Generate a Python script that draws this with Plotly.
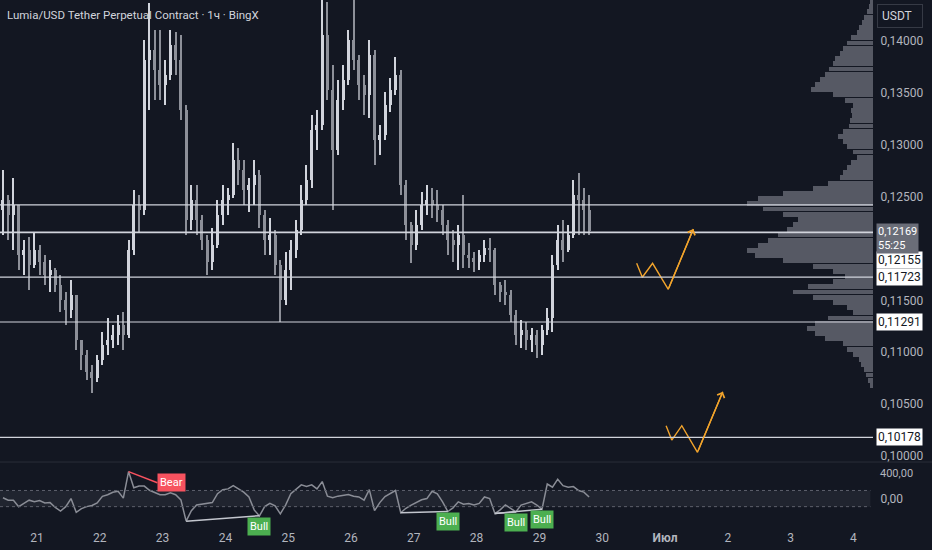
import numpy as np
import pandas as pd
import plotly.graph_objects as go

BG = "#131722"
TXT = "#b2b5be"
FONT = "Roboto"

# 2h candles, Lumia/USDT, 20 Jun 10:00 -> 29 Jun 20:00
first_open = 0.12371
closes = [
    .12467, .12322, .12419, .11937, .11985, .11841, .11985, .11869, .11744, .11792,
    .11647, .11503, .11407, .11551, .11117, .10973, .10809, .10751, .10925, .11069,
    .11117, .11166, .11262, .11166, .11985, .12419, .12371, .13817, .13913, .13720,
    .13576, .13672, .13961, .13817, .13335, .12274, .12467, .12274, .12081, .11869,
    .12033, .12322, .12467, .12515, .12853, .12756, .12563, .12611, .12708, .12322,
    .12081, .12130, .11841, .11503, .11792, .11985, .12178, .12467, .12660, .13142,
    .13190, .14058, .13527, .12949, .13431, .13624, .14009, .13817, .13576, .13479,
    .13865, .13045, .13094, .13383, .13527, .13672, .12611, .12226, .12033, .12226,
    .12419, .12467, .12419, .12371, .12226, .12081, .12033, .12130, .11937, .11908,
    .11869, .11937, .12004, .11985, .11647, .11580, .11551, .11359, .11166, .11213,
    .11117, .11166, .11069, .11213, .11330, .11841, .12081, .11985, .12130, .12515,
    .12467, .12371, .12169]
highs = [
    .12756, .12515, .12679, .12419, .12081, .12110, .12159, .12033, .11937, .11889,
    .11812, .11744, .11580, .11696, .11551, .11117, .11021, .10876, .10973, .11194,
    .11330, .11262, .11359, .11387, .12081, .12563, .12515, .14009, .14366, .14106,
    .14106, .13817, .14106, .14087, .14058, .13383, .12611, .12611, .12322, .12130,
    .12197, .12467, .12611, .12583, .13016, .12968, .12853, .12679, .12853, .12756,
    .12371, .12293, .12178, .11889, .11966, .12081, .12274, .12611, .12804, .13286,
    .13335, .14395, .14376, .13768, .13624, .13768, .14106, .14395, .13865, .13672,
    .14009, .13913, .13190, .13508, .13643, .13846, .13720, .12660, .12255, .12371,
    .12544, .12611, .12583, .12563, .12419, .12274, .12178, .12226, .12515, .12052,
    .11966, .11985, .12081, .12101, .12004, .11676, .11696, .11599, .11407, .11310,
    .11291, .11233, .11214, .11262, .11426, .11937, .12226, .12274, .12226, .12660,
    .12727, .12583, .12515]
lows = [
    .12130, .12081, .11985, .11792, .11744, .11599, .11812, .11744, .11647, .11580,
    .11580, .11387, .11262, .11330, .11021, .10828, .10732, .10607, .10713, .10876,
    .10973, .11040, .11069, .11021, .11137, .11937, .12159, .12322, .13335, .13431,
    .13431, .13383, .13624, .13672, .13238, .12130, .12178, .12130, .11985, .11744,
    .11792, .12004, .12226, .12322, .12486, .12611, .12419, .12351, .12419, .12197,
    .11937, .11937, .11744, .11291, .11455, .11599, .11908, .12130, .12419, .12583,
    .12949, .13142, .13431, .12371, .12901, .13335, .13576, .13720, .13431, .13286,
    .13258, .12804, .12901, .13045, .13315, .13479, .12515, .12081, .11860, .11985,
    .12178, .12322, .12293, .12255, .12130, .11937, .11869, .11792, .11812, .11812,
    .11773, .11792, .11869, .11869, .11551, .11484, .11455, .11291, .11069, .11040,
    .11021, .11002, .10944, .10973, .11166, .11194, .11792, .11869, .11966, .12101,
    .12130, .12130, .12130]

# CCI-like oscillator in the lower pane
cci = [
    10, -20, -20, -100, -60, -20, -40, -25, -55, -50,
    -110, -155, -100, 0, -170, -125, -100, -85, -55, 27,
    47, 78, 90, 5, 334, 133, 155, 155, 103, 78,
    47, 47, 70, 47, -16, -280, -150, -80, -70, -65,
    -50, 60, 110, 120, 160, 120, 80, 20, -140, -215,
    -100, -60, -90, -190, -80, 60, 110, 170, 150, 170,
    120, 210, 30, 10, 30, 40, 50, 30, 20, -20,
    110, -150, -50, 25, 60, 100, -175, -120, -80, -45,
    -15, 0, 90, 60, -40, -160, -115, -40, -70, -60,
    -80, -60, 20, 0, -185, -140, -80, -120, -165, -80,
    -60, -40, -80, -132, 180, 140, 240, 160, 140, 148,
    100, 80, 20]

# volume profile (fixed range), price bins and relative volume
vp_levels = [
    .1438, .1433, .1428, .1423, .1418, .1413, .1408, .1403, .1398, .1393,
    .1388, .1383, .1378, .1373, .1368, .1363, .1358, .1353, .1348, .1343,
    .1338, .1333, .1328, .1323, .1318, .1313, .1308, .1303, .1298, .1293,
    .1288, .1283, .1278, .1273, .1268, .1263, .1258, .1253, .1248, .1243,
    .1238, .1233, .1228, .1223, .1218, .1213, .1208, .1203, .1198, .1193,
    .1188, .1183, .1178, .1173, .1168, .1163, .1158, .1153, .1148, .1143,
    .1138, .1133, .1128, .1123, .1118, .1113, .1108, .1103, .1098, .1093,
    .1088, .1083, .1078, .1073, .1068]
vp_volume = [
    3, 4, 6, 9, 11, 14, 16, 22, 26, 30,
    33, 38, 40, 44, 48, 53, 58, 62, 40, 28,
    20, 22, 21, 23, 24, 30, 35, 30, 26, 20,
    16, 22, 26, 30, 33, 45, 60, 90, 115, 126,
    110, 90, 75, 80, 86, 95, 105, 115, 126, 118,
    90, 60, 40, 28, 40, 65, 80, 60, 40, 26,
    20, 45, 58, 66, 58, 48, 30, 26, 20, 14,
    12, 9, 7, 5, 3]

levels = [0.12420, 0.12155, 0.11723, 0.11291, 0.10178]
level_labels = ["0,12155", "0,11723", "0,11291", "0,10178"]
last_price = 0.12169
countdown = "55:25"

# 0,12000 sits under the price boxes in the reference, so it is not listed
price_ticks = [0.100, 0.105, 0.110, 0.115, 0.125, 0.130, 0.135, 0.140]
osc_top_label = 400
day_ticks = pd.date_range("2025-06-21", "2025-07-04", freq="D")
day_text = ["21", "22", "23", "24", "25", "26", "27", "28", "29", "30",
            "<b>Июл</b>", "2", "3", "4"]

# orange "W" projections
w1_time = ["2025-06-30 13:10", "2025-06-30 15:20", "2025-06-30 19:15",
           "2025-07-01 01:15", "2025-07-01 10:50"]
w1_price = [0.11857, 0.11722, 0.11857, 0.11606, 0.12187]
w2_time = ["2025-07-01 00:25", "2025-07-01 02:35", "2025-07-01 06:25",
           "2025-07-01 12:25", "2025-07-01 22:05"]
w2_price = [0.10291, 0.10153, 0.10291, 0.10035, 0.10619]

bar_time = pd.date_range("2025-06-20 11:00", periods=len(closes), freq="2h")
opens = [first_open] + closes[:-1]

# divergence lines on the oscillator
bear_line = ([bar_time[24], pd.Timestamp("2025-06-22 22:00")], [334, 195])
bull_lines = [
    ([bar_time[35], bar_time[49]], [-280, -212]),
    ([bar_time[76], bar_time[85]], [-175, -160]),
    ([bar_time[94], bar_time[98]], [-185, -165]),
    ([bar_time[94], bar_time[103]], [-185, -132]),
]

PX_MS = 86400000 / 62.8  # ms per pixel on the time axis
up = [c >= o for o, c in zip(opens, closes)]
col = ["#d1d4dc" if u else "#8d9099" for u in up]
body_lo = [min(o, c) for o, c in zip(opens, closes)]
body_h = [max(abs(c - o), 0.00005) for o, c in zip(opens, closes)]
wick_h = [h - l for h, l in zip(highs, lows)]

fig = go.Figure()

fig.add_trace(go.Bar(
    y=vp_levels, x=vp_volume, orientation="h", width=0.00047,
    marker=dict(color="rgba(128,131,141,0.62)", line=dict(width=0)),
    xaxis="x3", yaxis="y", hoverinfo="skip"))

fig.add_trace(go.Bar(
    x=bar_time, y=wick_h, base=lows, width=PX_MS * 1.1,
    marker=dict(color=col, line=dict(width=0)),
    xaxis="x2", yaxis="y", hoverinfo="skip"))
fig.add_trace(go.Bar(
    x=bar_time, y=body_h, base=body_lo, width=PX_MS * 3.0,
    marker=dict(color=col, line=dict(width=0)),
    xaxis="x2", yaxis="y"))

for t, p in [(w1_time, w1_price), (w2_time, w2_price)]:
    fig.add_trace(go.Scatter(x=t, y=p, mode="lines", xaxis="x2", yaxis="y",
                             line=dict(color="#f2a42c", width=1.4)))
    fig.add_annotation(x=t[-1], y=p[-1], ax=t[-2], ay=p[-2], xref="x2", yref="y",
                       axref="x2", ayref="y", text="", showarrow=True,
                       arrowhead=4, arrowsize=1.1, arrowwidth=1.4, arrowcolor="#f2a42c")

fig.add_trace(go.Scatter(x=bar_time, y=cci, mode="lines", xaxis="x", yaxis="y2",
                         line=dict(color="#8a8d96", width=1.5)))

fig.add_trace(go.Scatter(x=bear_line[0], y=bear_line[1], mode="lines", xaxis="x", yaxis="y2",
                         line=dict(color="#f7525f", width=1.5)))
fig.add_annotation(x=bear_line[0][1], y=bear_line[1][1], xref="x", yref="y2", text="Bear",
                   showarrow=False, xanchor="left", yanchor="middle", bgcolor="#f7525f",
                   borderpad=2, font=dict(family=FONT, size=11, color="white"))
for t, v in bull_lines:
    fig.add_trace(go.Scatter(x=t, y=v, mode="lines", xaxis="x", yaxis="y2",
                             line=dict(color="#c3c6ce", width=1.5)))
    fig.add_annotation(x=t[1], y=v[1], xref="x", yref="y2", text="Bull", showarrow=False,
                       xanchor="center", yanchor="top", yshift=-1, bgcolor="#4caf50",
                       borderpad=2, font=dict(family=FONT, size=11, color="white"))

shapes = []
for i, lv in enumerate(levels):
    shapes.append(dict(type="line", xref="paper", x0=0, x1=1, yref="y", y0=lv, y1=lv,
                       line=dict(color="#d1d4dc", width=1.6 if i == 1 else 1.2)))
# oscillator band
shapes.append(dict(type="rect", xref="paper", x0=0, x1=0.997, yref="y2", y0=-100, y1=100,
                   fillcolor="rgba(255,255,255,0.06)", line=dict(width=0), layer="below"))
for v in (-100, 100):
    shapes.append(dict(type="line", xref="paper", x0=0, x1=0.997, yref="y2", y0=v, y1=v,
                       line=dict(color="#5d606b", width=1, dash="dot")))
# pane separator
shapes.append(dict(type="line", xref="paper", x0=0, x1=1.07, yref="paper", y0=0.1149,
                   y1=0.1149, line=dict(color="#2a2e39", width=1)))

for lv, lab in zip(levels[1:], level_labels):
    fig.add_annotation(x=1, y=lv, xref="paper", yref="y", text=lab, showarrow=False,
                       xanchor="left", yanchor="middle", xshift=3,
                       yshift=-28 if lab == "0,12155" else 0,
                       bgcolor="#ffffff", borderpad=1,
                       font=dict(family=FONT, size=12, color="#131722"))
# current price + countdown box
fig.add_annotation(x=1, y=last_price, xref="paper", yref="y",
                   text=f"{last_price:.5f}".replace(".", ",") + "<br>" + countdown,
                   showarrow=False, xanchor="left", yanchor="top", xshift=3, yshift=8,
                   align="left", bgcolor="#6a6d78", borderpad=1,
                   font=dict(family=FONT, size=11, color="#ffffff"))
# top label of the oscillator scale, pushed just under the pane edge
fig.add_annotation(x=1, y=osc_top_label, xref="paper", yref="y2",
                   text=f"{osc_top_label:.2f}".replace(".", ","), showarrow=False,
                   xanchor="left", yanchor="top", xshift=5, yshift=1,
                   font=dict(family=FONT, size=11, color=TXT))
fig.add_annotation(x=1, y=1, xref="paper", yref="paper", text="USDT  ", showarrow=False,
                   xanchor="left", yanchor="top", xshift=4, yshift=-4, bgcolor=BG,
                   bordercolor="#363a45", borderwidth=1, borderpad=4,
                   font=dict(family=FONT, size=12, color="#d1d4dc"))
fig.add_annotation(x=0, y=1, xref="paper", yref="paper",
                   text="Lumia/USD Tether Perpetual Contract · 1ч · BingX", showarrow=False,
                   xanchor="left", yanchor="top", xshift=5, yshift=-6,
                   font=dict(family=FONT, size=11.5, color="#d1d4dc"))

fig.update_layout(
    width=932, height=550,
    margin=dict(l=0, r=59, t=0, b=28),
    paper_bgcolor=BG, plot_bgcolor=BG,
    barmode="overlay", bargap=0, showlegend=False,
    separators=", ",
    font=dict(family=FONT, size=12, color=TXT),
    shapes=shapes,
    xaxis=dict(type="date", domain=[0, 1], anchor="y2",
               range=["2025-06-20 09:52", "2025-07-04 07:29"],
               tickvals=day_ticks, ticktext=day_text, ticks="outside", ticklen=5,
               tickcolor=BG, showgrid=False, zeroline=False, showline=False,
               tickfont=dict(family=FONT, size=12, color=TXT)),
    xaxis2=dict(type="date", matches="x", anchor="y", showticklabels=False,
                showgrid=False, zeroline=False, showline=False),
    xaxis3=dict(overlaying="x2", anchor="y", range=[873, 0], visible=False),
    yaxis=dict(domain=[0.1149, 1], range=[0.09941, 0.14395], side="right", anchor="x2",
               tickvals=price_ticks, tickformat=".5f", showgrid=False, zeroline=False,
               ticks="outside", ticklen=4, tickcolor=BG,
               tickfont=dict(family=FONT, size=12, color=TXT)),
    yaxis2=dict(domain=[0, 0.113], range=[-290, 440], side="right", anchor="x",
                tickvals=[0], tickformat=".2f", showgrid=False, zeroline=False,
                ticks="outside", ticklen=4, tickcolor=BG,
                tickfont=dict(family=FONT, size=12, color=TXT)),
)

fig.write_html("out.html", config={"displayModeBar": False},
               post_script="document.body.style.margin='0';"
                           "document.body.style.overflow='hidden';")
